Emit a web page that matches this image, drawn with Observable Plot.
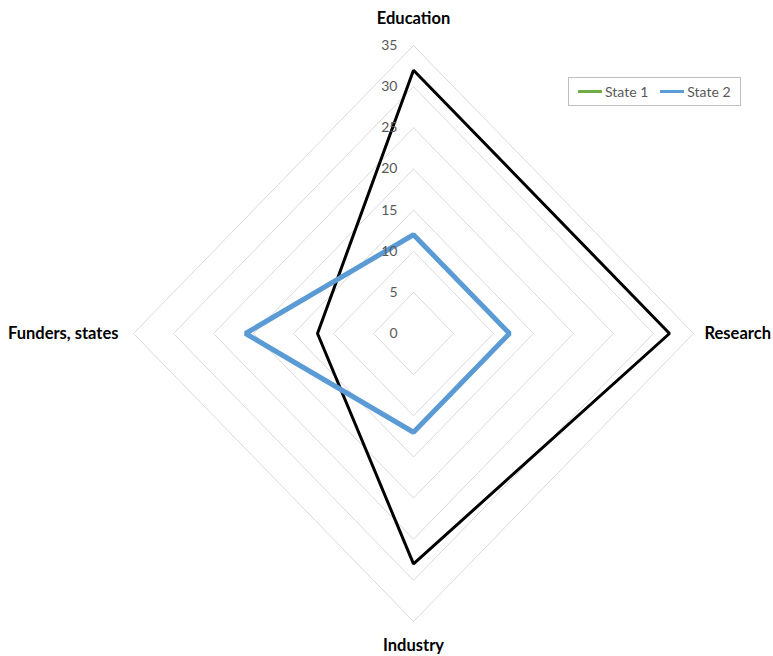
<!DOCTYPE html>
<html>
<head>
<meta charset="utf-8">
<script src="https://cdn.jsdelivr.net/npm/d3@7"></script>
<script src="https://cdn.jsdelivr.net/npm/@observablehq/plot@0.6"></script>
<style>
  html, body { margin: 0; padding: 0; background: #fff; }
  #wrap { position: relative; width: 773px; height: 656px; font-family: Lato, "Liberation Sans", sans-serif; }
  #legend { position: absolute; left: 568px; top: 77px; width: 171px; height: 27px; border: 1px solid #bfbfbf; background: #fff;
            display: flex; align-items: center; font-size: 14px; color: #595959; }
  .item { display: flex; align-items: center; margin-left: 9px; }
  .sw { width: 24px; height: 3px; margin-right: 3px; }
</style>
</head>
<body>
<div id="wrap">
  <div id="chart"></div>
  <div id="legend"></div>
</div>
<script>
const axes = ["Education", "Research", "Industry", "Funders, states"];
const seriesNames = ["State 1", "State 2"];
const state1 = [32, 32, 28, 12];
const state2 = [12, 12, 12, 21];
const ticks = [0, 5, 10, 15, 20, 25, 30, 35];
const lineColors = ["#000000", "#5B9BD5"];
const legendColors = ["#70AD47", "#5B9BD5"];

const maxR = 35;
const ang = i => i * Math.PI / 2;
const px = (r, i) => r * Math.sin(ang(i));
const py = (r, i) => r * Math.cos(ang(i));

// grid diamonds
const grid = [];
ticks.filter(t => t > 0).forEach(t => {
  for (let i = 0; i <= 4; i++) grid.push({t, x: px(t, i % 4), y: py(t, i % 4)});
});

const s1 = state1.map((v, i) => ({x: px(v, i), y: py(v, i)}));
const s2 = state2.map((v, i) => ({x: px(v, i), y: py(v, i)}));

const labels = axes.map((name, i) => ({name, x: px(maxR, i), y: py(maxR, i), i}));
const offs = [
  {dx: 0, dy: -27, anchor: "middle"},
  {dx: 11, dy: 0, anchor: "start"},
  {dx: 0, dy: 24, anchor: "middle"},
  {dx: -15, dy: 0, anchor: "end"}
];

const plot = Plot.plot({
  width: 773,
  height: 656,
  margin: 0,
  style: {fontFamily: 'Lato, "Liberation Sans", sans-serif', background: "#fff"},
  x: {domain: [-35, 35], range: [133, 693], axis: null},
  y: {domain: [-35, 35], range: [621, 45], axis: null},
  marks: [
    Plot.line(grid, {x: "x", y: "y", z: "t", stroke: "#d9d9d9", strokeWidth: 1}),
    Plot.line(s1, {x: "x", y: "y", curve: "linear-closed", stroke: lineColors[0], strokeWidth: 3, strokeLinejoin: "miter"}),
    Plot.line(s2, {x: "x", y: "y", curve: "linear-closed", stroke: lineColors[1], strokeWidth: 5, strokeLinejoin: "miter"}),
    Plot.text(ticks, {x: 0, y: d => d, text: d => String(d), dx: -16, textAnchor: "end", fontSize: 14, fill: "#595959"}),
    ...labels.map(l => Plot.text([l], {x: "x", y: "y", text: "name", dx: offs[l.i].dx, dy: offs[l.i].dy,
      textAnchor: offs[l.i].anchor, fontSize: 16.5, fontWeight: "bold", fill: "#000"}))
  ]
});
document.getElementById("chart").appendChild(plot);

const leg = document.getElementById("legend");
seriesNames.forEach((n, i) => {
  const it = document.createElement("div");
  it.className = "item";
  if (i === 1) it.style.marginLeft = "12px";
  const sw = document.createElement("div");
  sw.className = "sw";
  sw.style.background = legendColors[i];
  const tx = document.createElement("span");
  tx.textContent = n;
  it.appendChild(sw); it.appendChild(tx);
  leg.appendChild(it);
});
</script>
</body>
</html>
